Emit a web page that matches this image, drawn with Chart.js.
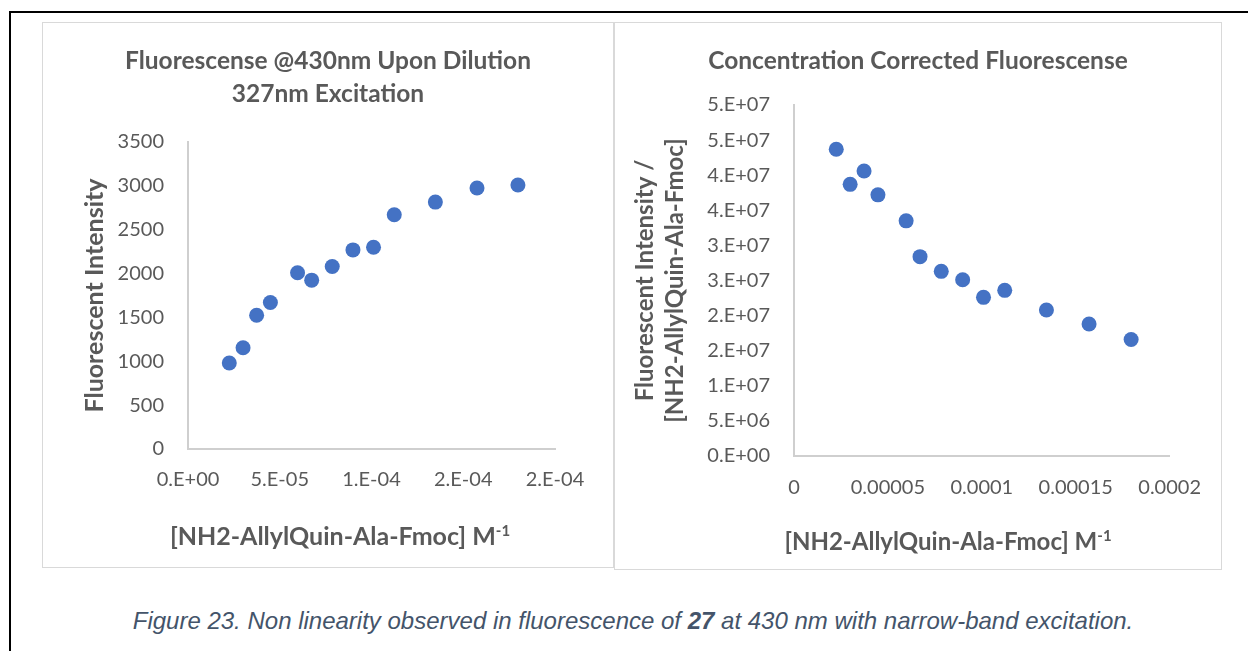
<!DOCTYPE html>
<html>
<head>
<meta charset="utf-8">
<script src="https://cdn.jsdelivr.net/npm/chart.js@4.4.0/dist/chart.umd.min.js"></script>
<style>
  body { margin: 0; width: 1248px; height: 651px; background: #fff; position: relative; overflow: hidden; }
  .frameTop { position: absolute; left: 9px; top: 11px; width: 1239px; height: 2px; background: #000; }
  .frameLeft { position: absolute; left: 9px; top: 11px; width: 2px; height: 640px; background: #000; }
  .box { position: absolute; border: 1px solid #d9d9d9; box-sizing: border-box; background: #fff; }
  .box canvas { position: absolute; left: 0; top: 0; }
  .xtitle { position: absolute; font: bold 25px Lato, sans-serif; color: #595959; white-space: nowrap; transform: translate(-50%, -50%); }
  .xtitle sup { font-size: 15px; }
  .caption { position: absolute; left: 633px; top: 621px; transform: translate(-50%, -50%); white-space: nowrap;
             font: italic 24px "Liberation Sans", Arial, sans-serif; color: #44546a; }
</style>
</head>
<body>
<div class="frameTop"></div>
<div class="frameLeft"></div>

<div class="box" style="left:42px; top:22px; width:572px; height:546px;">
  <canvas id="dilutionChart" width="570" height="544"></canvas>
</div>
<div class="box" style="left:614px; top:22px; width:608px; height:548px;">
  <canvas id="correctedChart" width="606" height="546"></canvas>
</div>

<div class="xtitle" style="left:340px; top:535px;">[NH2-AllylQuin-Ala-Fmoc] M<sup>-1</sup></div>
<div class="xtitle" style="left:948px; top:540px; font-size:24px;">[NH2-AllylQuin-Ala-Fmoc] M<sup>-1</sup></div>

<div class="caption">Figure 23. Non linearity observed in fluorescence of <b>27</b> at 430 nm with narrow-band excitation.</div>

<script>
// concentration (M) and raw intensity, left chart
var concLeft = [2.25e-5, 3.00e-5, 3.74e-5, 4.49e-5, 5.97e-5, 6.74e-5, 7.86e-5, 8.99e-5, 1.011e-4, 1.124e-4, 1.348e-4, 1.575e-4, 1.798e-4];
var intensity = [980, 1155, 1525, 1670, 2010, 1925, 2080, 2270, 2300, 2670, 2815, 2975, 3010];

// concentration corrected intensity, right chart
var concRight = [2.25e-5, 2.99e-5, 3.73e-5, 4.47e-5, 5.97e-5, 6.71e-5, 7.84e-5, 8.98e-5, 1.009e-4, 1.122e-4, 1.344e-4, 1.571e-4, 1.795e-4];
var corrected = [4.37e7, 3.87e7, 4.06e7, 3.72e7, 3.35e7, 2.84e7, 2.63e7, 2.51e7, 2.26e7, 2.36e7, 2.08e7, 1.88e7, 1.66e7];

// tick labels as Excel shows them
var leftXTicks = ["0.E+00", "5.E-05", "1.E-04", "2.E-04", "2.E-04"];
var leftYTicks = ["0", "500", "1000", "1500", "2000", "2500", "3000", "3500"];
var rightXTicks = ["0", "0.00005", "0.0001", "0.00015", "0.0002"];
var rightYTicks = ["0.E+00", "5.E+06", "1.E+07", "2.E+07", "2.E+07", "3.E+07", "3.E+07", "4.E+07", "4.E+07", "5.E+07", "5.E+07"];

var grey = "#595959";
var axisLine = "#cfcfcf";
var dotColor = "#4472c4";

function toPoints(xs, ys) {
    var pts = [];
    for (var i = 0; i < xs.length; i++) {
        pts.push({ x: xs[i], y: ys[i] });
    }
    return pts;
}

function makeChart(id, cfg) {
    var ctx = document.getElementById(id).getContext("2d");
    return new Chart(ctx, {
        type: "scatter",
        data: {
            datasets: [{
                data: toPoints(cfg.xs, cfg.ys),
                backgroundColor: dotColor,
                borderWidth: 0,
                pointRadius: 7.5,
                pointHoverRadius: 7.5
            }]
        },
        options: {
            responsive: false,
            animation: false,
            devicePixelRatio: 1,
            plugins: {
                legend: { display: false },
                tooltip: { enabled: false },
                title: {
                    display: true,
                    text: cfg.title,
                    color: grey,
                    font: { family: "Lato", size: 24.5, weight: "bold", lineHeight: 1.347 },
                    padding: { top: 22, bottom: cfg.titleBottom }
                }
            },
            scales: {
                x: {
                    type: "linear",
                    min: 0,
                    max: cfg.xMax,
                    grid: { display: false, drawTicks: false },
                    border: { display: true, color: axisLine, width: 2 },
                    ticks: {
                        stepSize: cfg.xStep,
                        autoSkip: false,
                        maxRotation: 0,
                        padding: cfg.xTickPad,
                        color: grey,
                        font: { family: "Lato", size: 20 },
                        callback: function(v, i) { return cfg.xLabels[i]; }
                    },
                    afterFit: function(scale) { scale.height = cfg.xHeight; }
                },
                y: {
                    type: "linear",
                    min: 0,
                    max: cfg.yMax,
                    grid: { display: false, drawTicks: false },
                    border: { display: true, color: axisLine, width: 2 },
                    ticks: {
                        stepSize: cfg.yStep,
                        autoSkip: false,
                        padding: 24,
                        color: grey,
                        font: { family: "Lato", size: 20 },
                        callback: function(v, i) { return cfg.yLabels[i]; }
                    },
                    title: {
                        display: true,
                        text: cfg.yTitle,
                        color: grey,
                        font: { family: "Lato", size: cfg.yTitleSize, weight: "bold", lineHeight: 30 / cfg.yTitleSize },
                        padding: { top: cfg.yTitlePad, bottom: 0 }
                    },
                    afterFit: function(scale) { scale.width = cfg.yWidth; }
                },
                // empty right-hand strip so the title stays centred on the whole box
                gap: {
                    type: "linear",
                    position: "right",
                    display: true,
                    grid: { display: false, drawTicks: false },
                    border: { display: false },
                    ticks: { display: false },
                    afterFit: function(scale) { scale.width = cfg.padRight; }
                }
            }
        }
    });
}

makeChart("dilutionChart", {
    xs: concLeft, ys: intensity,
    title: ["Fluorescense @430nm Upon Dilution", "327nm Excitation"],
    titleBottom: 31,
    padRight: 58,
    xMax: 2e-4, xStep: 5e-5, xLabels: leftXTicks, xTickPad: 19, xHeight: 118,
    yMax: 3500, yStep: 500, yLabels: leftYTicks,
    yTitle: "Fluorescent Intensity", yTitleSize: 25, yTitlePad: 37, yWidth: 145
});

makeChart("correctedChart", {
    xs: concRight, ys: corrected,
    title: "Concentration Corrected Fluorescense",
    titleBottom: 27,
    padRight: 49,
    xMax: 2e-4, xStep: 5e-5, xLabels: rightXTicks, xTickPad: 20, xHeight: 113,
    yMax: 5e7, yStep: 5e6, yLabels: rightYTicks,
    yTitle: ["Fluorescent Intensity /", "[NH2-AllylQuin-Ala-Fmoc]"], yTitleSize: 24, yTitlePad: 15, yWidth: 179
});
</script>
</body>
</html>
